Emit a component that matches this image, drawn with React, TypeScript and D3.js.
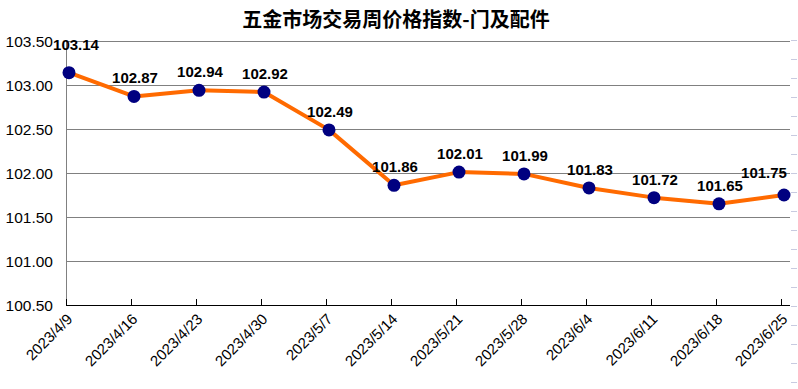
import * as d3 from "d3";

const dates = [
  "2023/4/9", "2023/4/16", "2023/4/23", "2023/4/30", "2023/5/7", "2023/5/14",
  "2023/5/21", "2023/5/28", "2023/6/4", "2023/6/11", "2023/6/18", "2023/6/25",
];
const values = [103.14, 102.87, 102.94, 102.92, 102.49, 101.86, 102.01, 101.99, 101.83, 101.72, 101.65, 101.75];
const yTicks = [100.5, 101.0, 101.5, 102.0, 102.5, 103.0, 103.5];

const W = 798;
const H = 389;
const PLOT = { left: 66, right: 790, top: 41, bottom: 305 };

export default function App() {
  const x = d3.scalePoint<string>().domain(dates).range([69, 784]);
  const y = d3.scaleLinear().domain([100.5, 103.5]).range([PLOT.bottom, PLOT.top]);

  const line = d3
    .line<number>()
    .x((_, i) => x(dates[i])!)
    .y((d) => y(d));

  const dashes = d3.range(40, H, 19);

  return (
    <svg
      width={W}
      height={H}
      style={{ position: "absolute", left: 0, top: 0, background: "#fff" }}
      fontFamily="Arial, 'Liberation Sans', sans-serif"
    >
      <text
        x={396}
        y={27}
        textAnchor="middle"
        fontSize={20}
        fontWeight="bold"
        fontFamily="'Noto Sans CJK SC', sans-serif"
      >
        五金市场交易周价格指数-门及配件
      </text>

      {/* faint dotted border on the right */}
      {dashes.map((d) => (
        <line key={d} x1={791} x2={797} y1={d + 0.5} y2={d + 0.5} stroke="#c8cbe0" strokeWidth={1} />
      ))}

      {/* gridlines */}
      {yTicks.map((t) => (
        <g key={t}>
          {t > 100.5 && (
            <line x1={PLOT.left} x2={PLOT.right} y1={Math.round(y(t)) + 0.5} y2={Math.round(y(t)) + 0.5} stroke="#808080" strokeWidth={1} />
          )}
          <text x={53} y={y(t) + 5.5} textAnchor="end" fontSize={15.5} fill="#000">
            {t.toFixed(2)}
          </text>
        </g>
      ))}
      <line x1={PLOT.left + 0.5} x2={PLOT.left + 0.5} y1={PLOT.top} y2={PLOT.bottom} stroke="#808080" />

      {/* x axis */}
      <line x1={PLOT.left} x2={PLOT.right} y1={PLOT.bottom + 0.5} y2={PLOT.bottom + 0.5} stroke="#000" strokeWidth={1} />
      {dates.map((d) => {
        const px = Math.round(x(d)! - 3) + 0.5;
        return (
          <g key={d}>
            <line x1={px} x2={px} y1={PLOT.bottom - 6} y2={PLOT.bottom} stroke="#000" />
            <text
              transform={`translate(${px + 7},${PLOT.bottom + 15}) rotate(-45)`}
              textAnchor="end"
              fontSize={15}
              fill="#000"
            >
              {d}
            </text>
          </g>
        );
      })}

      {/* series */}
      <path d={line(values)!} fill="none" stroke="#ff6a00" strokeWidth={4} strokeLinejoin="round" />
      {values.map((v, i) => (
        <circle key={i} cx={x(dates[i])!} cy={y(v)} r={6.5} fill="#000080" />
      ))}
      {values.map((v, i) => {
        const dx = i === 0 ? 7 : i === values.length - 1 ? -20 : 1;
        const dy = i === 0 ? -23 : i === values.length - 1 ? -17 : -13;
        return (
          <text
            key={i}
            x={x(dates[i])! + dx}
            y={y(v) + dy}
            textAnchor="middle"
            fontSize={15}
            fontWeight="bold"
            fill="#000"
          >
            {v.toFixed(2)}
          </text>
        );
      })}
    </svg>
  );
}
